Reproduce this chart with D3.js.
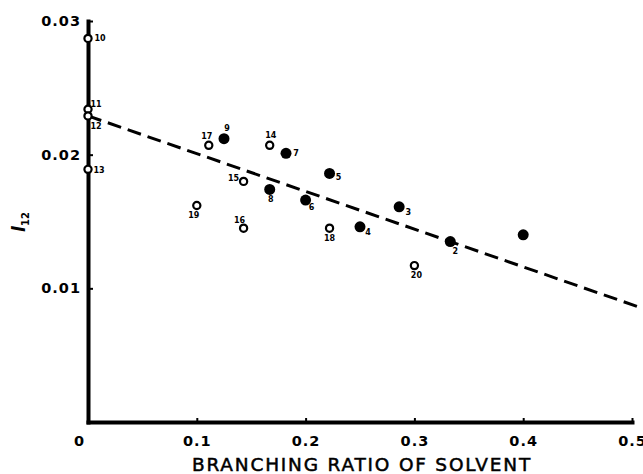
<!DOCTYPE html>
<html lang="en">

<head>
  <title>Branching ratio plot</title>
  <script src="https://d3js.org/d3.v7.min.js"></script>
  <style>
    body { margin: 0; background: #fff; }
    svg { display: block; }
  </style>
</head>

<body>
  <script>
    // Run numbers, branching ratio (x) and I12 (y)
    const runIds = [1, 2, 3, 4, 5, 6, 7, 8, 9, 10, 11, 12, 13, 14, 15, 16, 17, 18, 19, 20];
    const branchRatio = [0.400, 0.333, 0.286, 0.250, 0.222, 0.200, 0.182, 0.167, 0.125,
      0, 0, 0, 0, 0.167, 0.143, 0.143, 0.111, 0.222, 0.100, 0.300];
    const i12Values = [0.0140, 0.0135, 0.0161, 0.0146, 0.0186, 0.0166, 0.0201, 0.0174, 0.0212,
      0.0287, 0.0234, 0.0229, 0.0189, 0.0207, 0.0180, 0.0145, 0.0207, 0.0145, 0.0162, 0.0117];
    // filled (true) or open (false) symbol
    const filled = [true, true, true, true, true, true, true, true, true,
      false, false, false, false, false, false, false, false, false, false, false];
    const showLabel = [false, true, true, true, true, true, true, true, true,
      true, true, true, true, true, true, true, true, true, true, true];

    // dashed fit line end points
    const fitX = [0, 0.505];
    const fitY = [0.0229, 0.00864];

    const xTicks = [0, 0.1, 0.2, 0.3, 0.4, 0.5];
    const yTicks = [0.01, 0.02, 0.03];

    // where each point's number sits relative to the point (px)
    const labelOffset = {
      2: [5, 10], 3: [9, 6], 4: [8, 6], 5: [9, 4], 6: [6, 7], 7: [10, 0], 8: [1, 10], 9: [3, -10],
      10: [12, 0], 11: [8, -5], 12: [8, 11], 13: [11, 1], 14: [1, -10], 15: [-10, -3],
      16: [-4, -8], 17: [-2, -9], 18: [0, 10], 19: [-3, 10], 20: [2, 10]
    };

    const W = 643, H = 474;
    const svg = d3.select("body").append("svg")
      .attr("width", W)
      .attr("height", H);

    const x = d3.scaleLinear().domain([0, 0.5]).range([88, 632]);
    const y = d3.scaleLinear().domain([0, 0.03]).range([422, 21]);

    const tickFont = "'DejaVu Sans', sans-serif";

    // Y axis
    const yAxis = svg.append("g")
      .attr("transform", "translate(" + x(0) + ",0)")
      .call(d3.axisLeft(y).tickValues(yTicks).tickSizeInner(-5).tickSizeOuter(0)
        .tickPadding(7).tickFormat(d3.format(".2f")));

    // X axis
    const xAxis = svg.append("g")
      .attr("transform", "translate(0," + y(0) + ")")
      .call(d3.axisBottom(x).tickValues(xTicks).tickSizeInner(-4).tickSizeOuter(0)
        .tickPadding(14).tickFormat(d => d === 0 ? "0" : d3.format(".1f")(d)));

    [yAxis, xAxis].forEach(g => {
      g.select(".domain").attr("stroke", "#000").attr("stroke-width", 4)
        .attr("stroke-linecap", "square");
      g.selectAll(".tick line").attr("stroke", "#000").attr("stroke-width", 2);
      g.selectAll(".tick text")
        .attr("fill", "#000")
        .style("font-family", tickFont)
        .style("font-weight", "bold")
        .style("font-size", "14.5px")
        .style("letter-spacing", "1px");
    });
    xAxis.selectAll(".tick text").filter(d => d === 0).attr("dx", -9);

    // Dashed fit line
    const fitData = fitX.map((v, i) => ({ x: v, y: fitY[i] }));
    svg.append("path")
      .datum(fitData)
      .attr("fill", "none")
      .attr("stroke", "#000")
      .attr("stroke-width", 3)
      .attr("stroke-dasharray", "14,7")
      .attr("d", d3.line().x(d => x(d.x)).y(d => y(d.y)));

    // Points
    const points = runIds.map((id, i) => ({
      id: id, x: branchRatio[i], y: i12Values[i], filled: filled[i], label: showLabel[i]
    }));

    svg.selectAll("circle.pt")
      .data(points)
      .enter()
      .append("circle")
      .attr("class", "pt")
      .attr("cx", d => x(d.x))
      .attr("cy", d => y(d.y))
      .attr("r", d => d.filled ? 5.5 : 3.6)
      .attr("fill", d => d.filled ? "#000" : "#fff")
      .attr("stroke", "#000")
      .attr("stroke-width", d => d.filled ? 0 : 2.2);

    svg.selectAll("text.pt-label")
      .data(points.filter(d => d.label))
      .enter()
      .append("text")
      .attr("class", "pt-label")
      .attr("x", d => x(d.x) + labelOffset[d.id][0])
      .attr("y", d => y(d.y) + labelOffset[d.id][1])
      .attr("text-anchor", "middle")
      .attr("dominant-baseline", "central")
      .style("font-family", tickFont)
      .style("font-weight", "bold")
      .style("font-size", "8px")
      .text(d => d.id);

    // Axis titles
    svg.append("text")
      .attr("x", 362)
      .attr("y", 471)
      .attr("text-anchor", "middle")
      .attr("fill", "#000")
      .attr("stroke", "#000")
      .attr("stroke-width", 0.5)
      .style("font-family", tickFont)
      .style("font-size", "18.5px")
      .style("letter-spacing", "1.8px")
      .text("BRANCHING RATIO OF SOLVENT");

    const yTitle = svg.append("text")
      .attr("transform", "translate(25,222) rotate(-90)")
      .attr("text-anchor", "middle")
      .style("font-family", tickFont)
      .style("font-weight", "bold");
    yTitle.append("tspan")
      .style("font-style", "italic")
      .style("font-size", "17px")
      .text("l");
    yTitle.append("tspan")
      .attr("dy", 4)
      .style("font-size", "10px")
      .text("12");
  </script>
</body>

</html>
